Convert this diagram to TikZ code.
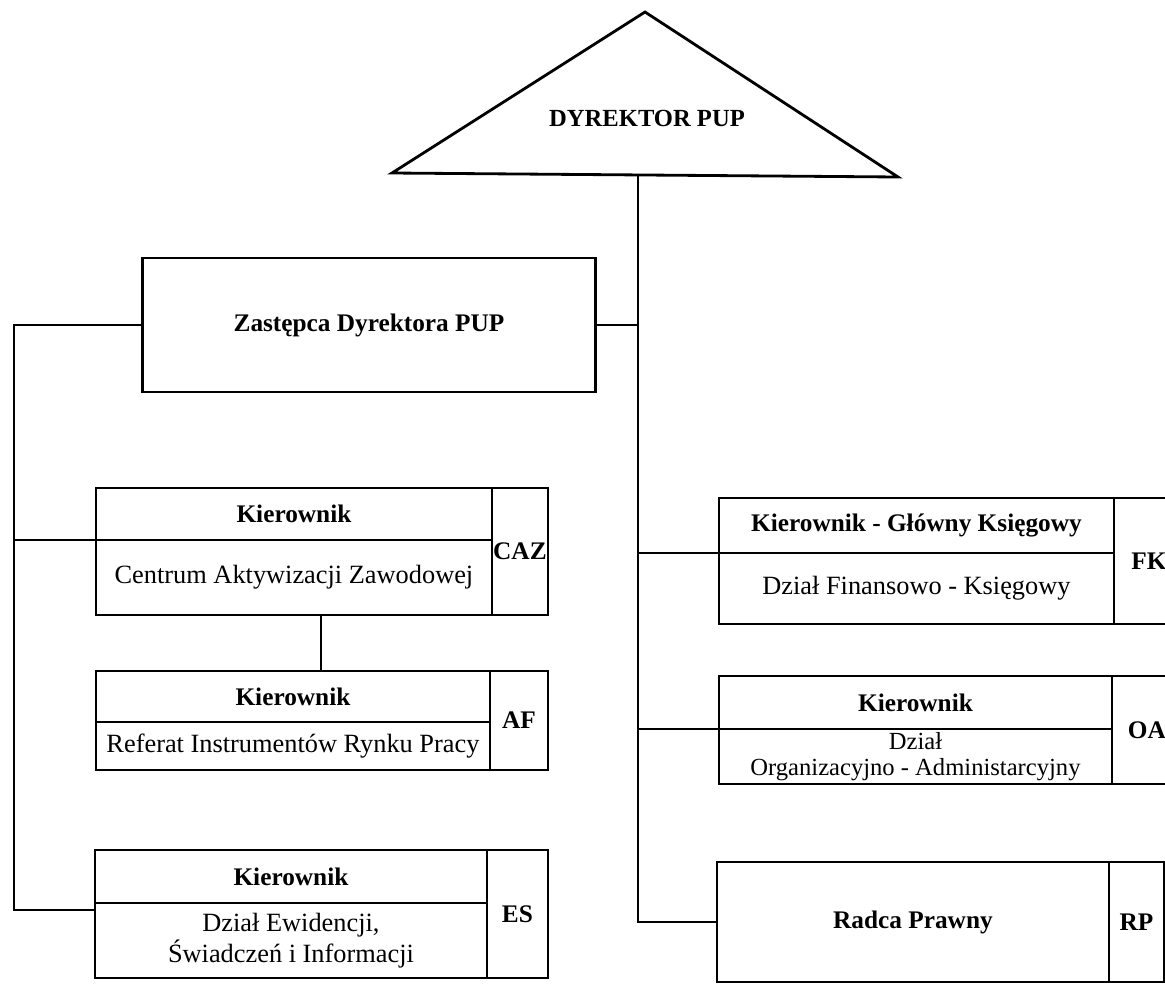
\documentclass[tikz,border=0pt]{standalone}
\usepackage{fontspec}
\setmainfont{Liberation Serif}
\usetikzlibrary{positioning}

\begin{document}
\begin{tikzpicture}[x=0.02cm,y=-0.02cm,
  cell/.style={draw,line width=0.8pt,inner sep=0pt,outer sep=0pt,align=center,font=\fontsize{15}{17.5}\selectfont},
  head/.style={cell,font=\fontsize{14.4}{17}\selectfont\bfseries},
  code/.style={head},
  frame/.style={line width=1.6pt},
  link/.style={line width=1.6pt}]
\useasboundingbox (0,0) rectangle (1165,984);
\clip (0,0) rectangle (1165,984);

% dyrektor
\coordinate (apex) at (645,12);
\coordinate (baseL) at (392,173);
\coordinate (baseR) at (898,177);
\draw[frame] (baseL) -- (apex) -- (baseR) -- cycle;
\node[font=\fontsize{14}{16}\selectfont\bfseries] (dyr) at (647,118) {DYREKTOR PUP};
\coordinate (trunk) at (638,175);

% zastepca
\node[head,frame,minimum width=9.06cm,minimum height=2.68cm] (zast) at (369,325) {Zastępca Dyrektora PUP};

% left column
\node[head,anchor=north west,minimum width=7.92cm,minimum height=1.04cm] (cazhead) at (96,488) {Kierownik};
\node[cell,below=0pt of cazhead,minimum width=7.92cm,minimum height=1.5cm] (cazbody) {Centrum Aktywizacji Zawodowej};
\node[code,anchor=north west,minimum width=1.12cm,minimum height=2.54cm] (cazcode) at (cazhead.north east) {CAZ};
\draw[frame] (cazhead.north west) rectangle (cazcode.south east);

\node[head,anchor=north west,minimum width=7.88cm,minimum height=1.02cm] (afhead) at (96,671) {Kierownik};
\node[cell,below=0pt of afhead,minimum width=7.88cm,minimum height=0.96cm] (afbody) {Referat Instrumentów Rynku Pracy};
\node[code,anchor=north west,minimum width=1.16cm,minimum height=1.98cm] (afcode) at (afhead.north east) {AF};
\draw[frame] (afhead.north west) rectangle (afcode.south east);

\node[head,anchor=north west,minimum width=7.84cm,minimum height=1.06cm] (eshead) at (95,850) {Kierownik};
\node[cell,below=0pt of eshead,minimum width=7.84cm,minimum height=1.5cm] (esbody) {Dział Ewidencji,\\Świadczeń i Informacji};
\node[code,anchor=north west,minimum width=1.22cm,minimum height=2.56cm] (escode) at (eshead.north east) {ES};
\draw[frame] (eshead.north west) rectangle (escode.south east);

% right column
\node[head,anchor=north west,minimum width=7.9cm,minimum height=1.1cm] (fkhead) at (719,498) {Kierownik - Główny Księgowy};
\node[cell,below=0pt of fkhead,minimum width=7.9cm,minimum height=1.42cm] (fkbody) {Dział Finansowo - Księgowy};
\node[code,anchor=north west,minimum width=1.4cm,minimum height=2.52cm] (fkcode) at (fkhead.north east) {FK};
\draw[frame] (fkhead.north west) rectangle (fkcode.south east);

\node[head,anchor=north west,minimum width=7.86cm,minimum height=1.06cm] (oahead) at (719,676) {Kierownik};
\node[cell,below=0pt of oahead,minimum width=7.86cm,minimum height=1.1cm,font=\fontsize{14}{15}\selectfont] (oabody) {Dział\\Organizacyjno - Administarcyjny};
\node[code,anchor=north west,minimum width=1.4cm,minimum height=2.16cm] (oacode) at (oahead.north east) {OA};
\draw[frame] (oahead.north west) rectangle (oacode.south east);

\node[head,anchor=north west,minimum width=7.84cm,minimum height=2.4cm] (rpmain) at (717,862) {Radca Prawny};
\node[code,anchor=north west,minimum width=1.1cm,minimum height=2.4cm] (rpcode) at (rpmain.north east) {RP};
\draw[frame] (rpmain.north west) rectangle (rpcode.south east);

% connectors
\coordinate (lft) at (14,910);
\coordinate (cazlink) at ([xshift=0.54cm]cazbody.south);
\draw[link] (zast.west) -| (lft) -- (lft -| eshead.west);
\draw[link] (cazhead.south west) -- (cazhead.south west -| lft);
\draw[link] (cazlink) -- (cazlink |- afhead.north);
\draw[link] (trunk) |- (rpmain.west);
\draw[link] (zast.east) -- (zast.east -| trunk);
\draw[link] (fkhead.south west) -- (fkhead.south west -| trunk);
\draw[link] (oahead.south west) -- (oahead.south west -| trunk);
\end{tikzpicture}
\end{document}
